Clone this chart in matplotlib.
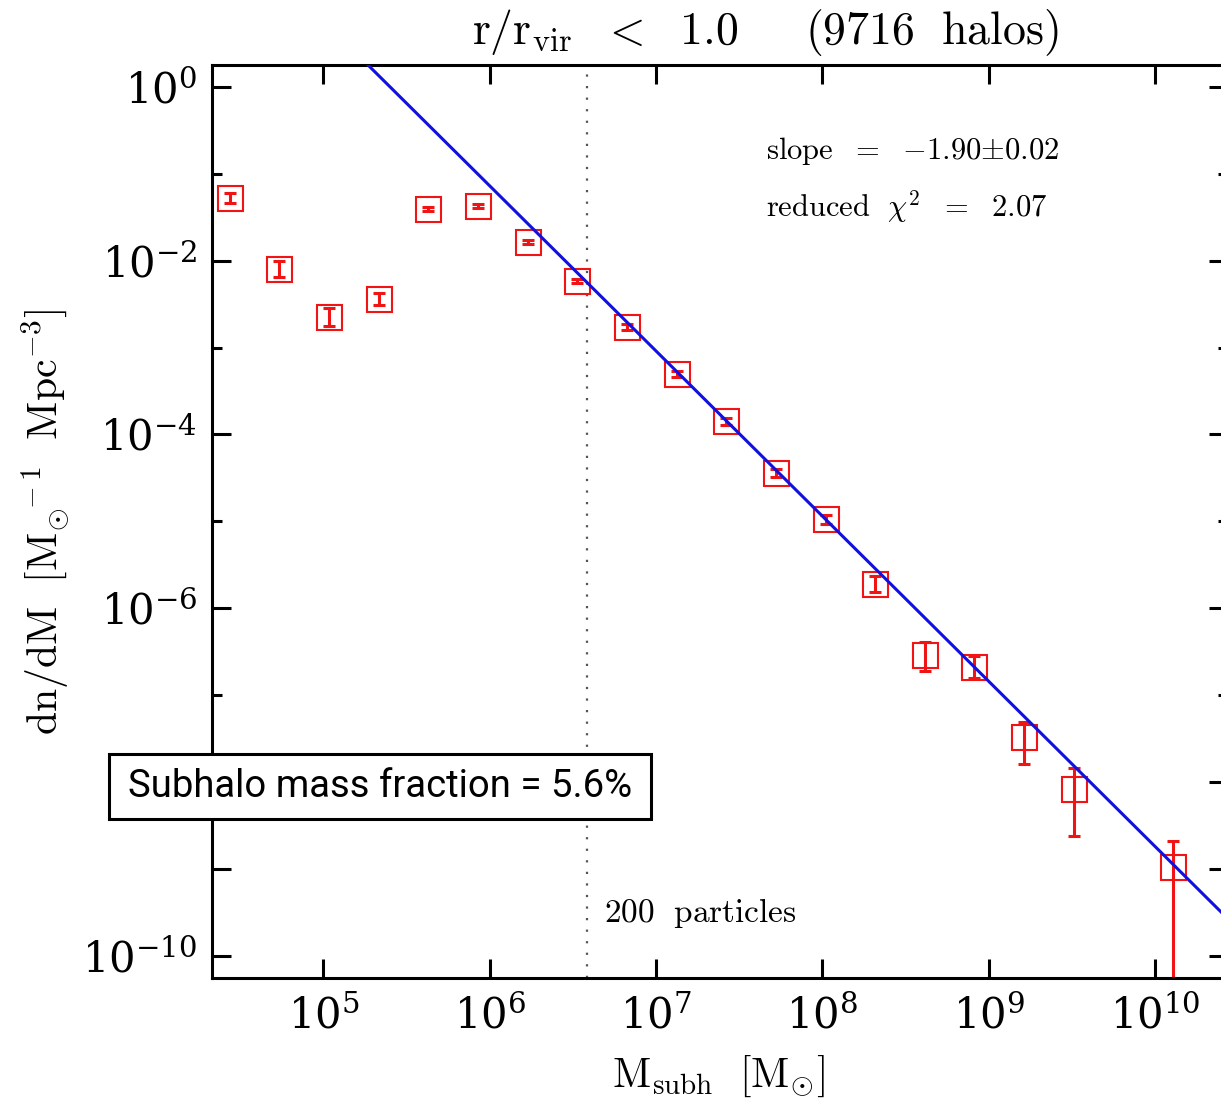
import numpy as np
import matplotlib.pyplot as plt
from matplotlib.patches import Rectangle
from matplotlib.ticker import FixedLocator, NullLocator, NullFormatter, LogFormatterMathtext

plt.rcParams['mathtext.fontset'] = 'cm'
plt.rcParams['font.family'] = 'serif'
plt.rcParams['font.serif'] = ['DejaVu Serif']

# binned subhalo mass function, r/r_vir < 1.0
m_subh = [2.75e4, 5.43e4, 1.081e5, 2.163e5, 4.276e5, 8.55e5, 1.694e6, 3.365e6,
          6.668e6, 1.334e7, 2.649e7, 5.272e7, 1.05e8, 2.084e8, 4.15e8, 8.204e8,
          1.637e9, 3.243e9, 1.282e10]
dndm = [5.28e-2, 7.93e-3, 2.26e-3, 3.61e-3, 3.89e-2, 4.28e-2, 1.648e-2, 5.82e-3,
        1.734e-3, 4.92e-4, 1.426e-4, 3.63e-5, 1.057e-5, 1.888e-6, 2.92e-7, 2.13e-7,
        3.30e-8, 8.34e-9, 1.042e-9]
err_dn = [6.6e-3, 1.51e-3, 4.8e-4, 5.3e-4, 2.0e-3, 2.2e-3, 8.4e-4, 3.0e-4,
          1.33e-4, 3.8e-5, 1.26e-5, 3.7e-6, 1.19e-6, 3.6e-7, 1.01e-7, 5.4e-8,
          1.69e-8, 5.94e-9, 1.042e-9]
err_up = [7.5e-3, 1.87e-3, 6.1e-4, 6.2e-4, 2.1e-3, 2.3e-3, 8.9e-4, 3.1e-4,
          1.44e-4, 4.1e-5, 1.38e-5, 4.1e-6, 1.34e-6, 4.5e-7, 1.20e-7, 7.2e-8,
          1.61e-8, 6.09e-9, 1.06e-9]

# power-law fit
fit_slope = -1.90
fit_norm = 10 ** 10.26
m_200part = 3.86e6   # mass of 200 particles

x_ticks = [1e5, 1e6, 1e7, 1e8, 1e9, 1e10]
y_ticks_labelled = [1e0, 1e-2, 1e-4, 1e-6, 1e-10]
y_ticks_other = [1e-1, 1e-3, 1e-5, 1e-7, 1e-8, 1e-9]

red = '#f01414'
blue = '#1010e0'

fig = plt.figure(figsize=(12.21, 11.04), dpi=100)
ax = fig.add_axes([0.1739, 0.1137, 0.8319, 0.8274])
ax.set_xscale('log')
ax.set_yscale('log')
ax.set_xlim(2.151e4, 2.748e10)
ax.set_ylim(5.51e-11, 1.777)

ax.axvline(m_200part, color='#555555', lw=1.6, ls=(0, (1, 4.2)), zorder=1)

ax.errorbar(m_subh, dndm, yerr=[err_dn, err_up], fmt='none', ecolor=red,
            elinewidth=2.2, capsize=4.2, capthick=2.2, zorder=2)
ax.plot(m_subh, dndm, ls='none', marker='s', ms=18, mfc='none', mec=red,
        mew=1.5, zorder=3)

m_fit = np.logspace(4.0, 11.0, 100)
ax.plot(m_fit, fit_norm * m_fit ** fit_slope, color=blue, lw=2.2, zorder=4)

# axes frame and ticks
for s in ax.spines.values():
    s.set_linewidth(2.2)

ax.xaxis.set_major_locator(FixedLocator(x_ticks))
ax.xaxis.set_major_formatter(LogFormatterMathtext())
ax.xaxis.set_minor_locator(NullLocator())
ax.yaxis.set_major_locator(FixedLocator(y_ticks_labelled))
ax.yaxis.set_major_formatter(LogFormatterMathtext())
ax.yaxis.set_minor_locator(FixedLocator(y_ticks_other))
ax.yaxis.set_minor_formatter(NullFormatter())
ax.tick_params(which='both', direction='in', top=True, right=True, width=2.2,
               labelsize=30)
ax.tick_params(which='major', length=14)
ax.tick_params(which='minor', length=7)
ax.tick_params(axis='x', pad=12)
ax.tick_params(axis='y', pad=11)

# 1e-8 gets a full-length tick but no label
for val, tick in zip(y_ticks_other, ax.yaxis.get_minor_ticks(len(y_ticks_other))):
    if np.isclose(val, 1e-8):
        tick.tick1line.set_markersize(14)
        tick.tick2line.set_markersize(14)

ax.text(0.545, 0.897, r'$\mathrm{slope}\ \ =\ \ {-}1.90{\pm}0.02$', transform=ax.transAxes,
        fontsize=22, va='baseline', ha='left')
ax.text(0.545, 0.834, r'$\mathrm{reduced}\ \ \chi^2\ \ =\ \ 2.07$', transform=ax.transAxes,
        fontsize=22, va='baseline', ha='left')
ax.text(0.386, 0.062, r'$\mathrm{200\ \ particles}$', transform=ax.transAxes,
        fontsize=24, va='baseline', ha='left')

fig.text(0.6265, 0.960, r'$\mathrm{r/r_{vir}}\ \ <\ \ 1.0\ \ \ \ \ \mathrm{(9716\ \ halos)}$',
         fontsize=33, ha='center', va='baseline')
fig.text(0.588, 0.0154, r'$\mathrm{M_{subh}}\ \ [\mathrm{M}_{\odot}]$',
         fontsize=30, ha='center', va='baseline')
fig.text(0.037, 0.527, r'$\mathrm{dn/dM}\ \ [\mathrm{M}_{\odot}^{\ \ -1}\ \ \mathrm{Mpc}^{-3}]$',
         fontsize=30, ha='center', va='center', rotation=90)

# mass fraction label box
box = Rectangle((0.0893, 0.2582), 0.4439, 0.0589, transform=fig.transFigure,
                facecolor='white', edgecolor='black', lw=2.2, zorder=10)
fig.add_artist(box)
fig.text(0.311, 0.2876, 'Subhalo mass fraction = 5.6%', family='Roboto',
         fontsize=27.5, ha='center', va='center', zorder=11)

fig.savefig('out.png', dpi=100)
